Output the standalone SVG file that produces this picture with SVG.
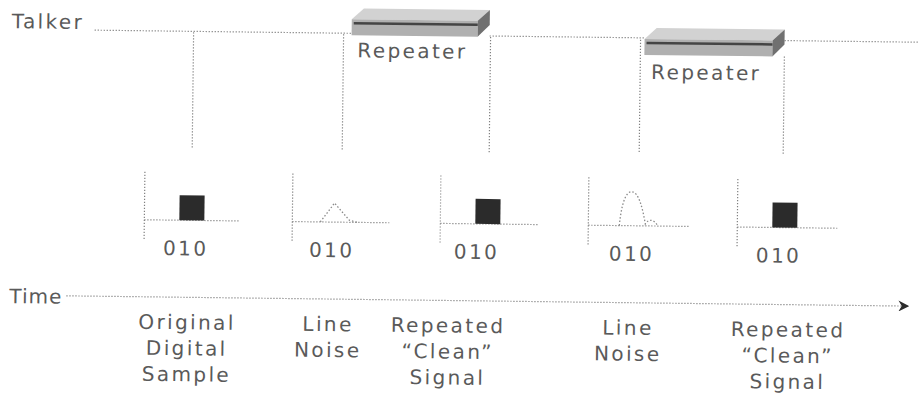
<svg xmlns="http://www.w3.org/2000/svg" width="920" height="408" viewBox="0 0 920 408">
  <defs>
    <style>
      .lbl { font-family: "DejaVu Sans", "Liberation Sans", sans-serif; font-size: 20px; fill: #5a5a5a; letter-spacing: 2.4px; }
      .mid { text-anchor: middle; }
      .dot { fill: none; stroke: #808080; stroke-width: 1.2; stroke-dasharray: 1.2 1.8; }
      .sig { fill: none; stroke: #8a8a8a; stroke-width: 1.3; stroke-dasharray: 1.5 2; }
      .bit { fill: #2b2b2b; }
      .slab-top { fill: #d2d2d2; }
      .slab-front { fill: #b0b0b0; }
      .slab-side { fill: #707070; }
      .slab-edge { fill: none; stroke: #444; stroke-width: 2.5; }
    </style>
    <marker id="arrow" viewBox="0 0 10 10" refX="9" refY="5" markerWidth="11" markerHeight="11" markerUnits="userSpaceOnUse" orient="auto">
      <path d="M0,0 L10,5 L0,10 L3,5 Z" fill="#2b2b2b"/>
    </marker>
  </defs>
  <rect width="920" height="408" fill="#fff"/>

  <g transform="rotate(0.7)">
    <!-- axes and drop lines -->
    <g id="connectors">
      <line class="dot" x1="95" y1="29" x2="352" y2="29"/>
      <line class="dot" x1="490" y1="30" x2="645" y2="30"/>
      <line class="dot" x1="785" y1="31" x2="920" y2="31"/>
      <line class="dot" x1="194" y1="30" x2="194" y2="147"/>
      <line class="dot" x1="344" y1="30" x2="344" y2="147"/>
      <line class="dot" x1="491" y1="31" x2="491" y2="147"/>
      <line class="dot" x1="641" y1="32" x2="641" y2="146"/>
      <line class="dot" x1="785" y1="47" x2="785" y2="146"/>
      <line class="dot" x1="70" y1="295" x2="912" y2="295" marker-end="url(#arrow)"/>
    </g>

    <g id="talker-label"><text class="lbl" x="12" y="28">Talker</text></g>
    <g id="time-label"><text class="lbl" x="13" y="303" style="letter-spacing:1px">Time</text></g>

    <!-- repeater 1 -->
    <g id="repeater-1">
      <polygon class="slab-top" points="364,4 490,4 478,15 352,15"/>
      <rect class="slab-front" x="352" y="15" width="126" height="16"/>
      <polygon class="slab-side" points="478,15 490,4 490,19 478,31"/>
      <line class="slab-edge" x1="354" y1="19" x2="478" y2="19"/>
      <text class="lbl" x="358" y="53">Repeater</text>
    </g>

    <!-- repeater 2 -->
    <g id="repeater-2">
      <polygon class="slab-top" points="657,20 785,20 773,31 645,31"/>
      <rect class="slab-front" x="645" y="31" width="128" height="16"/>
      <polygon class="slab-side" points="773,31 785,20 785,35 773,47"/>
      <line class="slab-edge" x1="647" y1="35" x2="773" y2="35"/>
      <text class="lbl" x="652" y="71">Repeater</text>
    </g>

    <!-- sample panels -->
    <g id="panel-1">
      <line class="dot" x1="147" y1="170" x2="147" y2="238"/>
      <line class="dot" x1="147" y1="218" x2="243" y2="218"/>
      <rect class="bit" x="182" y="193" width="25" height="25"/>
      <text class="lbl" x="166" y="253">010</text>
    </g>
    <g id="panel-2">
      <line class="dot" x1="295" y1="170" x2="295" y2="238"/>
      <line class="dot" x1="295" y1="218" x2="392" y2="218"/>
      <path class="sig" d="M323,218 L337,199 L352,216 L360,218"/>
      <text class="lbl" x="312" y="253">010</text>
    </g>
    <g id="panel-3">
      <line class="dot" x1="443" y1="170" x2="443" y2="238"/>
      <line class="dot" x1="443" y1="218" x2="542" y2="218"/>
      <rect class="bit" x="478" y="193" width="25" height="25"/>
      <text class="lbl" x="457" y="253">010</text>
    </g>
    <g id="panel-4">
      <line class="dot" x1="591" y1="170" x2="591" y2="238"/>
      <line class="dot" x1="591" y1="218" x2="692" y2="218"/>
      <path class="sig" d="M622,218 C624,196 628,184 634,184 C641,184 645,200 648,216 C651,211 656,211 660,217"/>
      <text class="lbl" x="612" y="253">010</text>
    </g>
    <g id="panel-5">
      <line class="dot" x1="740" y1="170" x2="740" y2="238"/>
      <line class="dot" x1="740" y1="218" x2="840" y2="218"/>
      <rect class="bit" x="775" y="193" width="25" height="25"/>
      <text class="lbl" x="759" y="253">010</text>
    </g>

    <!-- captions under the time axis -->
    <g id="caption-1">
      <text class="lbl mid" x="191" y="327">Original</text>
      <text class="lbl mid" x="191" y="353">Digital</text>
      <text class="lbl mid" x="191" y="379">Sample</text>
    </g>
    <g id="caption-2">
      <text class="lbl mid" x="332" y="327">Line</text>
      <text class="lbl mid" x="332" y="353">Noise</text>
    </g>
    <g id="caption-3">
      <text class="lbl mid" x="452" y="327">Repeated</text>
      <text class="lbl mid" x="452" y="353">“Clean”</text>
      <text class="lbl mid" x="452" y="379">Signal</text>
    </g>
    <g id="caption-4">
      <text class="lbl mid" x="632" y="327">Line</text>
      <text class="lbl mid" x="632" y="353">Noise</text>
    </g>
    <g id="caption-5">
      <text class="lbl mid" x="792" y="327">Repeated</text>
      <text class="lbl mid" x="792" y="353">“Clean”</text>
      <text class="lbl mid" x="792" y="379">Signal</text>
    </g>
  </g>
</svg>
